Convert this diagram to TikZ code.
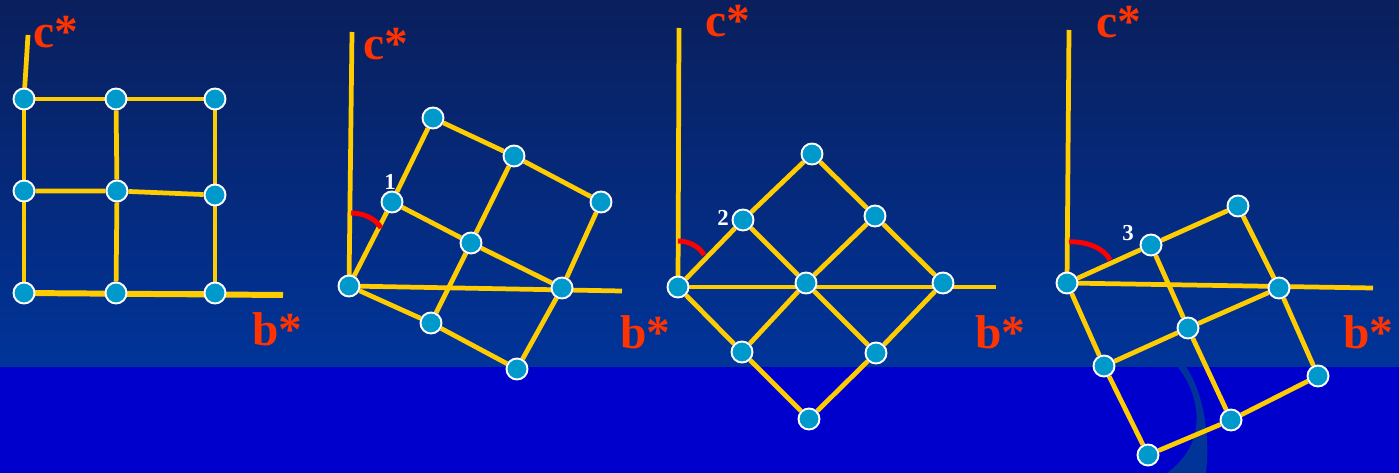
\documentclass[tikz,border=0pt]{standalone}
\usepackage{fontspec}
\setmainfont{Liberation Serif}
\definecolor{skytop}{RGB}{10,31,92}
\definecolor{skylow}{RGB}{0,52,153}
\definecolor{floorblue}{RGB}{0,0,204}
\definecolor{rodyellow}{RGB}{255,204,0}
\definecolor{spotblue}{RGB}{0,153,204}
\definecolor{axred}{RGB}{255,51,0}
\definecolor{arcred}{RGB}{255,0,0}
\pgfdeclarelayer{bg}
\pgfdeclarelayer{rods}
\pgfsetlayers{bg,rods,main}

\begin{document}
\begin{tikzpicture}[
    x=0.02cm,y=-0.02cm,
    rod/.style={draw=rodyellow, line width=2.7pt},
    axisrod/.style={draw=rodyellow, line width=2.7pt},
    spot/.style={
        circle,
        draw=white,
        line width=1.1pt,
        fill=spotblue,
        minimum size=0.42cm,
        inner sep=0pt
    },
    axlbl/.style={font=\fontsize{27}{30}\selectfont\bfseries, text=axred, inner sep=0pt, anchor=base west},
    numlbl/.style={font=\fontsize{13}{14}\selectfont\bfseries, text=white, inner sep=0pt},
    anglearc/.style={draw=arcred, line width=2.8pt}
]
\useasboundingbox (0,0) rectangle (1399,473);

% Background
\begin{pgfonlayer}{bg}
\shade[top color=skytop, bottom color=skylow] (0,0) rectangle (1399,367);
\fill[floorblue] (0,367) rectangle (1399,473);
\fill[skylow] (1178,367) .. controls (1203,400) and (1206,445) .. (1167,473)
    -- (1206,473) .. controls (1210,440) and (1205,395) .. (1186,367) -- cycle;
\end{pgfonlayer}

% Panel 1
\node[spot] (g1-00) at (24,293) {};
\node[spot] (g1-10) at (116,293) {};
\node[spot] (g1-20) at (215,293) {};
\node[spot] (g1-01) at (24,191) {};
\node[spot] (g1-11) at (117,191) {};
\node[spot] (g1-21) at (215,195) {};
\node[spot] (g1-02) at (24,99) {};
\node[spot] (g1-12) at (116,99) {};
\node[spot] (g1-22) at (215,99) {};
\coordinate (c1) at (28,35);
\coordinate (b1) at (283,295);
\node[axlbl] (c1lbl) at (33,48) {c*};
\node[axlbl] (b1lbl) at (252,345) {b*};

% Panel 2
\node[spot] (g2-00) at (349,286) {};
\node[spot] (g2-10) at (431,323) {};
\node[spot] (g2-20) at (517,369) {};
\node[spot] (g2-01) at (392,202) {};
\node[spot] (g2-11) at (471,243) {};
\node[spot] (g2-21) at (562,288) {};
\node[spot] (g2-02) at (433,118) {};
\node[spot] (g2-12) at (514,156) {};
\node[spot] (g2-22) at (601,202) {};
\coordinate (c2) at (352,32);
\coordinate (b2) at (622,291);
\node[axlbl] (c2lbl) at (363,60) {c*};
\node[axlbl] (b2lbl) at (620,348) {b*};
\node[numlbl] (n1) at (390,182) {1};

% Panel 3
\node[spot] (g3-00) at (678,287) {};
\node[spot] (g3-10) at (742,352) {};
\node[spot] (g3-20) at (809,419) {};
\node[spot] (g3-01) at (743,220) {};
\node[spot] (g3-11) at (806,283) {};
\node[spot] (g3-21) at (876,353) {};
\node[spot] (g3-02) at (812,154) {};
\node[spot] (g3-12) at (875,216) {};
\node[spot] (g3-22) at (943,283) {};
\coordinate (c3) at (679,28);
\coordinate (b3) at (996,287);
\node[axlbl] (c3lbl) at (705,37) {c*};
\node[axlbl] (b3lbl) at (975,348) {b*};
\node[numlbl] (n2) at (723,218) {2};

% Panel 4
\node[spot] (g4-00) at (1067,283) {};
\node[spot] (g4-10) at (1104,366) {};
\node[spot] (g4-20) at (1148,455) {};
\node[spot] (g4-01) at (1151,245) {};
\node[spot] (g4-11) at (1188,328) {};
\node[spot] (g4-21) at (1231,420) {};
\node[spot] (g4-02) at (1238,206) {};
\node[spot] (g4-12) at (1279,288) {};
\node[spot] (g4-22) at (1318,376) {};
\coordinate (c4) at (1069,30);
\coordinate (b4) at (1373,288);
\node[axlbl] (c4lbl) at (1096,38) {c*};
\node[axlbl] (b4lbl) at (1343,348) {b*};
\node[numlbl] (n3) at (1128,233) {3};

% Lattice rods and axes
\begin{pgfonlayer}{rods}
\draw[axisrod] (g1-02.center) -- (c1);
\draw[axisrod, line width=3.4pt] (g1-00.center) -- (b1);
\draw[rod] (g1-00) -- (g1-10) -- (g1-20);
\draw[rod] (g1-01) -- (g1-11) -- (g1-21);
\draw[rod] (g1-02) -- (g1-12) -- (g1-22);
\draw[rod] (g1-00) -- (g1-01) -- (g1-02);
\draw[rod] (g1-10) -- (g1-11) -- (g1-12);
\draw[rod] (g1-20) -- (g1-21) -- (g1-22);

\draw[axisrod] (g2-00.center) -- (c2);
\draw[axisrod] (g2-00.center) -- (b2);
\draw[rod] (g2-00) -- (g2-10) -- (g2-20);
\draw[rod] (g2-01) -- (g2-11) -- (g2-21);
\draw[rod] (g2-02) -- (g2-12) -- (g2-22);
\draw[rod] (g2-00) -- (g2-01) -- (g2-02);
\draw[rod] (g2-10) -- (g2-11) -- (g2-12);
\draw[rod] (g2-20) -- (g2-21) -- (g2-22);

\draw[axisrod] (g3-00.center) -- (c3);
\draw[axisrod] (g3-00.center) -- (b3);
\draw[rod] (g3-00) -- (g3-10) -- (g3-20);
\draw[rod] (g3-01) -- (g3-11) -- (g3-21);
\draw[rod] (g3-02) -- (g3-12) -- (g3-22);
\draw[rod] (g3-00) -- (g3-01) -- (g3-02);
\draw[rod] (g3-10) -- (g3-11) -- (g3-12);
\draw[rod] (g3-20) -- (g3-21) -- (g3-22);

\draw[axisrod] (g4-00.center) -- (c4);
\draw[axisrod] (g4-00.center) -- (b4);
\draw[rod] (g4-00) -- (g4-10) -- (g4-20);
\draw[rod] (g4-01) -- (g4-11) -- (g4-21);
\draw[rod] (g4-02) -- (g4-12) -- (g4-22);
\draw[rod] (g4-00) -- (g4-01) -- (g4-02);
\draw[rod] (g4-10) -- (g4-11) -- (g4-12);
\draw[rod] (g4-20) -- (g4-21) -- (g4-22);

% Tilt angles
\draw[anglearc] (351,213) .. controls (364,213) and (376,219) .. (381,228);
\draw[anglearc] (678,241) .. controls (689,241) and (700,247) .. (704,255);
\draw[anglearc] (1069,242) .. controls (1086,241) and (1104,248) .. (1110,260);
\end{pgfonlayer}

\end{tikzpicture}
\end{document}
